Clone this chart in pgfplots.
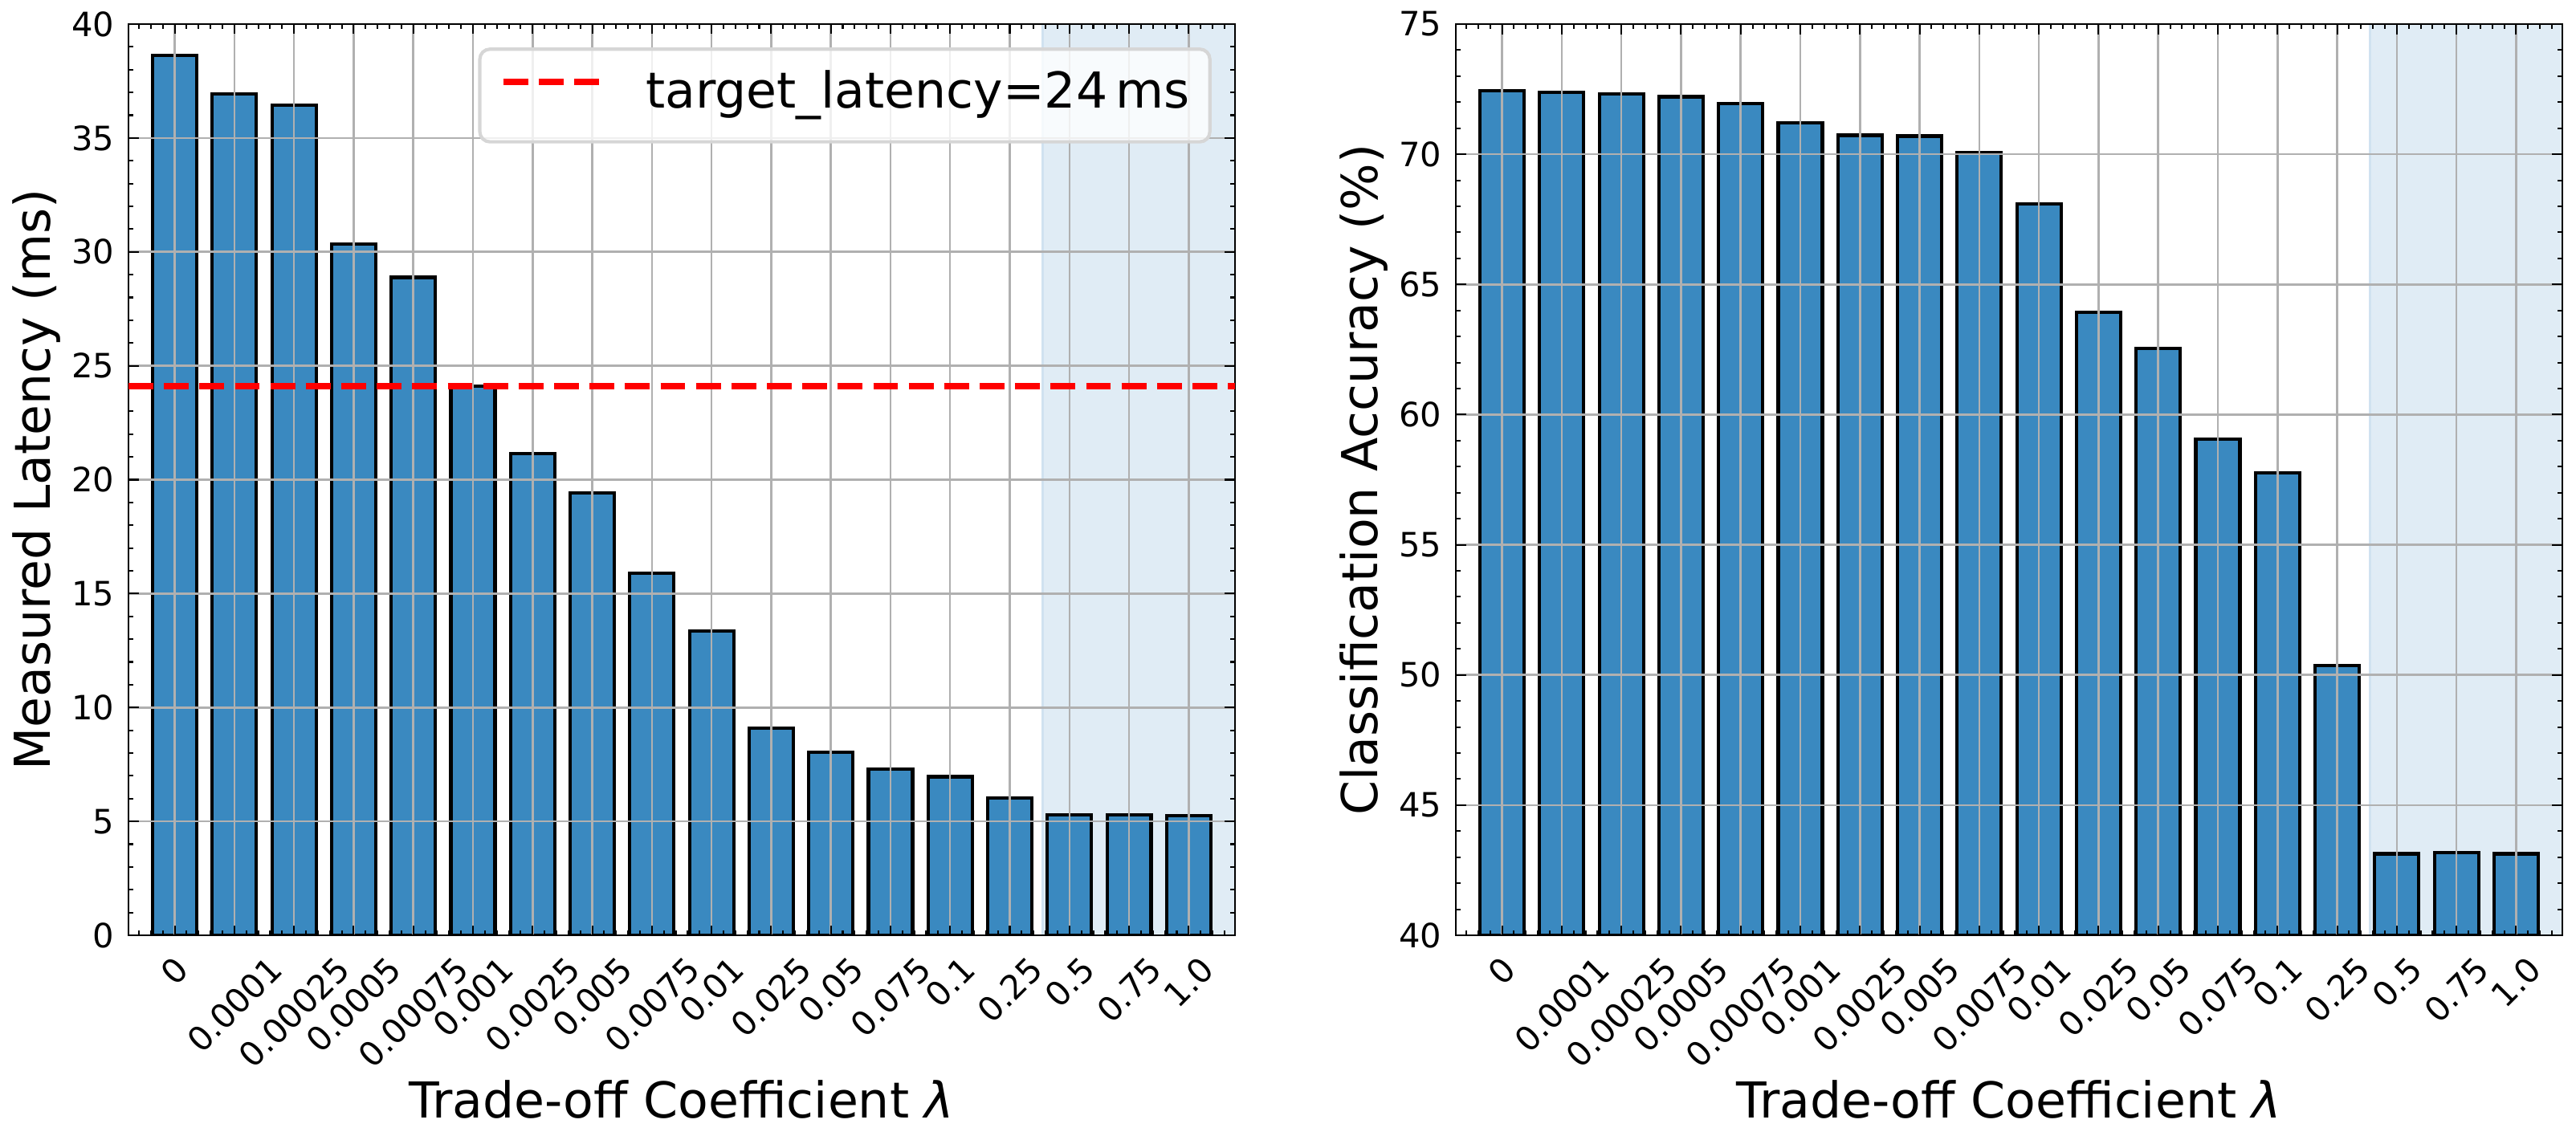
\documentclass[border=0pt]{standalone}
\usepackage{fontspec}
\setmainfont{DejaVu Sans}
\usepackage{graphicx}
\usepackage{pgfplots}
\usepackage{pgfplotstable}
\pgfplotsset{compat=1.18}

\definecolor{barblue}{RGB}{58,137,192}
\definecolor{shade}{RGB}{224,236,245}
\definecolor{shadeedge}{RGB}{208,226,240}
\definecolor{gridgray}{RGB}{176,176,176}
\definecolor{legedge}{RGB}{214,214,214}

\newcommand{\rl}[1]{\rotatebox{45}{#1}}

\pgfplotstableread{
x lat acc
0 38.63 72.43
1 36.94 72.39
2 36.45 72.33
3 30.35 72.21
4 28.88 71.95
5 24.12 71.22
6 21.15 70.73
7 19.41 70.70
8 15.90 70.06
9 13.37 68.10
10 9.08 63.94
11 8.03 62.53
12 7.31 59.06
13 6.96 57.76
14 6.04 50.35
15 5.29 43.13
16 5.29 43.17
17 5.25 43.13
}\data

\pgfplotsset{
  myaxis/.style={
    scale only axis, width=330.7pt, height=272.4pt,
    anchor=south west,
    xmin=-0.775, xmax=17.775,
    xtick={0,...,17},
    xticklabels={\rl{0},\rl{0.0001},\rl{0.00025},\rl{0.0005},\rl{0.00075},\rl{0.001},\rl{0.0025},\rl{0.005},\rl{0.0075},\rl{0.01},\rl{0.025},\rl{0.05},\rl{0.075},\rl{0.1},\rl{0.25},\rl{0.5},\rl{0.75},\rl{1.0}},
    minor xtick={-0.6,-0.4,...,17.6},
    minor y tick num=4,
    tick align=inside, tick pos=both,
    major tick length=3pt, minor tick length=1.5pt,
    every tick/.style={black, line width=0.5pt},
    axis line style={line width=0.6pt},
    grid=major,
    major grid style={gridgray, line width=0.6pt},
    set layers, axis on top,
    xticklabel style={anchor=north, inner sep=0pt, yshift=-5.5pt, font=\fontsize{10}{12}\selectfont},
    yticklabel style={anchor=east, inner sep=0pt, xshift=-4.1pt, font=\fontsize{10}{12}\selectfont},
    /pgf/number format/assume math mode=true,
    xlabel={Trade-off Coefficient {\itshape λ}},
    xlabel style={at={([yshift=-54.7pt]axis description cs:0.5,0)}, anchor=base, font=\fontsize{14.8}{17}\selectfont, inner sep=0pt},
    ylabel style={at={([xshift=-23.5pt]axis description cs:0,0.5)}, anchor=base, font=\fontsize{14.8}{17}\selectfont, inner sep=0pt},
  }
}

\begin{document}
\begin{tikzpicture}

\begin{axis}[myaxis, at={(38.4pt,60.96pt)},
  ymin=0, ymax=40, ytick distance=5,
  ylabel={Measured Latency (ms)},
  legend style={at={(1,1)}, anchor=north east, xshift=-7pt, yshift=-7pt,
    draw=legedge, line width=1pt, fill=white, fill opacity=0.8, text opacity=1,
    rounded corners=3pt, inner xsep=6pt, inner ysep=6.5pt,
    font=\fontsize{14.8}{17}\selectfont,
    nodes={inner sep=0pt, text height=11.2pt, text depth=3.5pt},
    /tikz/every odd column/.append style={column sep=13pt}},
  legend image code/.code={\draw[#1] (0pt,4pt) -- (28.6pt,4pt);},
]
\addplot[fill=shade, draw=shadeedge, line width=0.6pt, forget plot]
  coordinates {(14.55,-1) (14.55,41) (18.5,41) (18.5,-1)} -- cycle;
\addplot[ybar, bar width=0.74, fill=barblue, draw=black, line width=1pt, forget plot]
  table[x=x, y=lat] {\data};
\addplot[red, line width=2pt, dash pattern=on 7.4pt off 3.2pt, on layer=axis foreground]
  coordinates {(-0.775,24.1) (17.775,24.1)};
\addlegendentry{target\_latency=24\,ms}
\end{axis}

\begin{axis}[myaxis, at={(435.12pt,60.96pt)},
  ymin=40, ymax=75, ytick distance=5,
  ylabel={Classification Accuracy (\%)},
]
\addplot[fill=shade, draw=shadeedge, line width=0.6pt, forget plot]
  coordinates {(14.55,39) (14.55,76) (18.5,76) (18.5,39)} -- cycle;
\addplot[ybar, bar width=0.74, fill=barblue, draw=black, line width=1pt, forget plot]
  table[x=x, y=acc] {\data};
\end{axis}
\pgfresetboundingbox
\useasboundingbox (0,0) rectangle (769.92pt,340.56pt);
\end{tikzpicture}
\end{document}
